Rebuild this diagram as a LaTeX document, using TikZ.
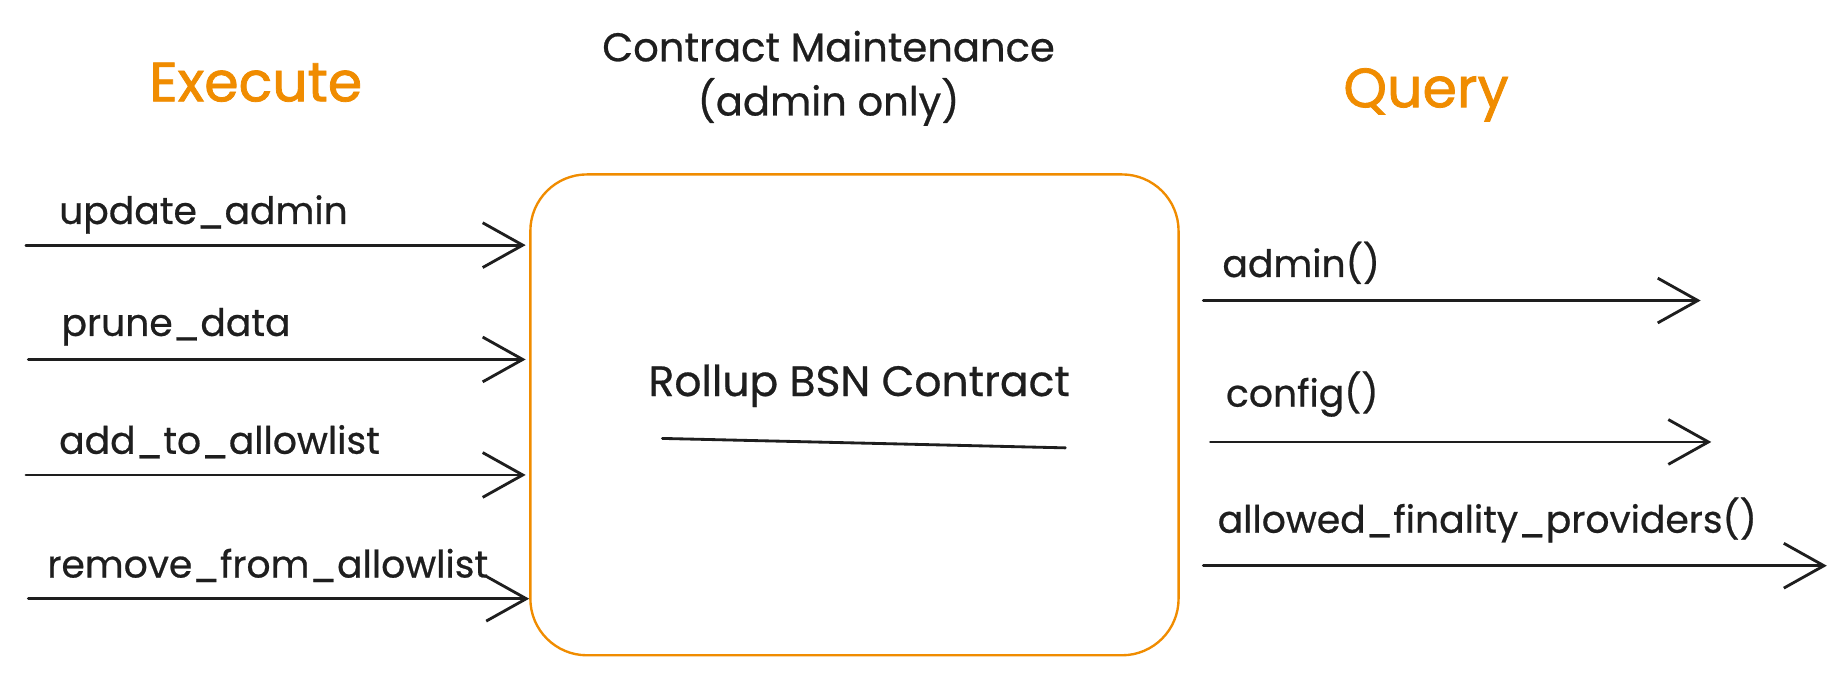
\documentclass[tikz,border=0pt]{standalone}
\usepackage{fontspec}
\setmainfont{Poppins}
\newfontfamily\inkfont[FakeBold=0.6]{Poppins}
\newfontfamily\ttlfont[FakeBold=1.4]{Poppins}
\usetikzlibrary{arrows.meta}
\definecolor{exor}{HTML}{F08C00}
\definecolor{ink}{HTML}{1E1E1E}
\tikzset{
  lbl/.style={anchor=base west, font=\inkfont\fontsize{32}{36}\selectfont, text=ink, inner sep=0pt},
  ttl/.style={anchor=base, font=\ttlfont\fontsize{47}{50}\selectfont, text=exor, inner sep=0pt},
  captext/.style={anchor=base, font=\inkfont\fontsize{34}{38}\selectfont, text=ink, inner sep=0pt},
  conn/.style={draw=ink, line width=2.4pt, line cap=round,
    -{Straight Barb[length=34pt,width=38pt,line width=2.4pt]}},
  mainbox/.style={draw=exor, line width=2pt, rounded corners=48pt,
    minimum width=550pt, minimum height=408pt, inner sep=0pt}
}
\begin{document}
\begin{tikzpicture}[x=1pt,y=-1pt]
\useasboundingbox[fill=white] (0,0) rectangle (1568,574.4);
\node[mainbox] (box) at (725,352) {};
% headings
\node[ttl] (exec) at (217,86) {Execute};
\node[ttl] (query) at (1210,91) {Query};
\node[captext] (maint1) at (703,52) {Contract Maintenance};
\node[captext] (maint2) at (703,98) {(admin only)};
% centre label
\node[captext, font=\inkfont\fontsize{36}{40}\selectfont] (rollup) at (729,336) {Rollup BSN Contract};
\coordinate (ul0) at (562,372);
\coordinate (ul1) at (904,380);
\draw[ink, line width=2.4pt, line cap=round] (ul0) -- (ul1);
% left execute arrows
\coordinate (e1) at (22,208);
\coordinate (e2) at (24,305);
\coordinate (e3) at (22,403);
\coordinate (e4) at (24,508);
\node[lbl] (l1) at (50,190) {update\_admin};
\node[lbl] (l2) at (52,285) {prune\_data};
\node[lbl] (l3) at (50,385) {add\_to\_allowlist};
\node[lbl] (l4) at (40,490) {remove\_from\_allowlist};
\draw[conn, shorten >=3pt] (e1) -- (e1 -| box.west);
\draw[conn, shorten >=3pt] (e2) -- (e2 -| box.west);
\draw[conn, shorten >=3pt] (e3) -- (e3 -| box.west);
\draw[conn, shorten >=0pt] (e4) -- (e4 -| box.west);
% right query arrows
\coordinate (q1) at (1443,255);
\coordinate (q2) at (1452,375);
\coordinate (q3) at (1550,480);
\node[lbl] (r1) at (1037,235) {admin()};
\node[lbl] (r2) at (1040,345) {config()};
\node[lbl] (r3) at (1033,452) {allowed\_finality\_providers()};
\draw[conn, shorten <=20pt] (q1 -| box.east) -- (q1);
\draw[conn, shorten <=26pt] (q2 -| box.east) -- (q2);
\draw[conn, shorten <=20pt] (q3 -| box.east) -- (q3);
\end{tikzpicture}
\end{document}
